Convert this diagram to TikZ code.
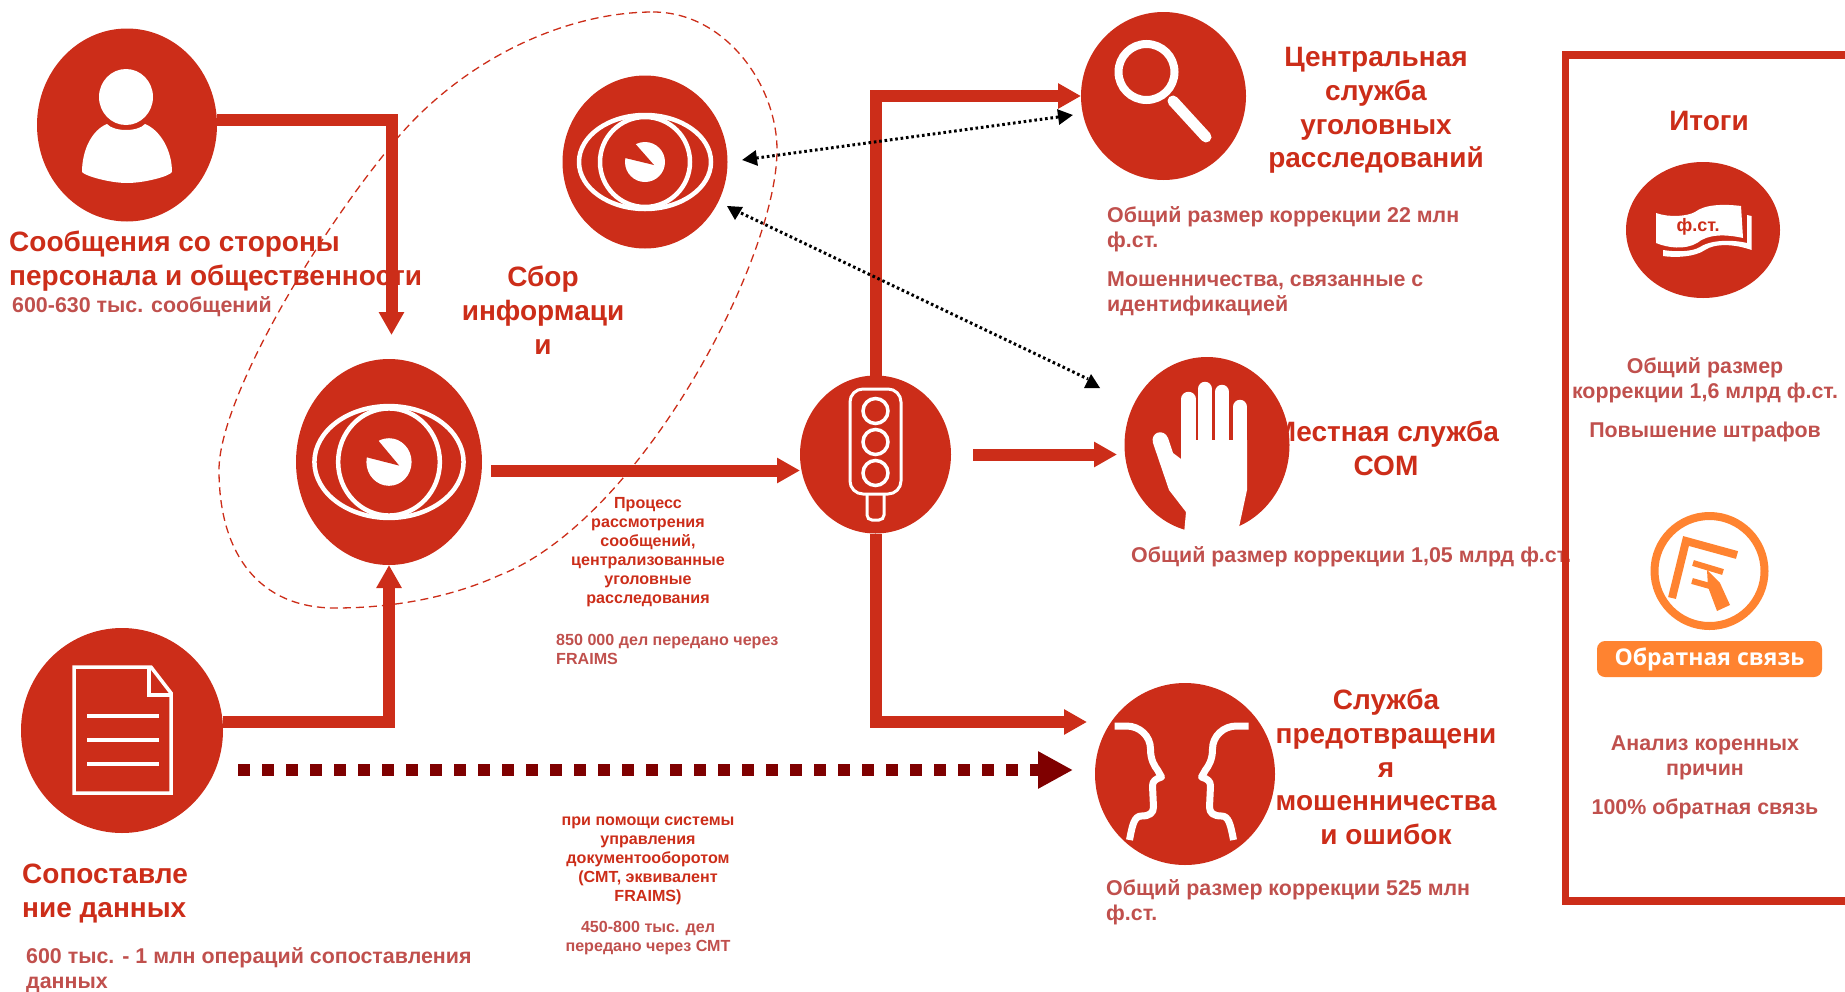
\documentclass[tikz,border=0pt]{standalone}
\usepackage{fontspec}
\setmainfont{Liberation Sans}
\newfontfamily\badgefont{Open Sans}
\usepackage{tikz}
\usetikzlibrary{arrows.meta,shapes.geometric}
\definecolor{mainred}{HTML}{CC2D19}
\definecolor{subred}{HTML}{C0504D}
\definecolor{darkred}{HTML}{7F0000}
\definecolor{feedback}{HTML}{FF8330}
\tikzset{
    >=Stealth,
    disc/.style={
        shape=ellipse,
        fill=mainred,
        inner sep=0pt,
        outer sep=0pt
    },
    headline/.style={
        text=mainred,
        inner sep=0pt,
        font={\fontsize{28pt}{33.8pt}\selectfont\bfseries}
    },
    remark/.style={
        text=subred,
        inner sep=0pt,
        yshift=-2pt,
        font={\fontsize{21.4pt}{25pt}\selectfont\bfseries}
    },
    smallred/.style={
        text=mainred,
        inner sep=0pt,
        yshift=-1.5pt,
        font={\fontsize{16.1pt}{19pt}\selectfont\bfseries}
    },
    smallsub/.style={smallred, text=subred},
    flowline/.style={
        draw=mainred,
        line width=12pt,
        -{Triangle[length=23pt,width=24pt]}
    },
    dotline/.style={
        draw=black,
        line width=3pt,
        dash pattern=on 2.6pt off 2.8pt,
        {Triangle[length=15pt,width=15pt]}-{Triangle[length=15pt,width=15pt]}
    },
    whiteline/.style={draw=white, line width=7pt},
    eyeicon/.pic={
        \draw[white, line width=4.5pt] (0,0) ellipse (66 and 47);
        \draw[white, line width=4.5pt] (0,0) circle (45);
        \fill[white] (0,0) circle (20);
        \fill[mainred] (9,3) -- (-24,-5) -- (-13,-22) -- cycle;
    },
    faceicon/.pic={
        \draw[whiteline, line join=round]
            (-67,-48) -- (-55,-48) .. controls (-42,-48) and (-31,-38) .. (-31,-25)
            .. controls (-31,-14) and (-27,-8) .. (-24,-4) -- (-20,3)
            .. controls (-26,5) and (-29,7) .. (-29,12) -- (-28,33)
            .. controls (-28,39) and (-32,42) .. (-40,42)
            .. controls (-47,42) and (-49,50) .. (-52,66);
    },
}
\begin{document}
\begin{tikzpicture}
[
    x=1pt,
    y=-1pt,
]
\useasboundingbox (0,0) rectangle (1845,991);

% texts
\node[headline, anchor=west, align=left] (reportstitle) at (9,261)
    {Сообщения со стороны\\персонала и общественности};
\node[remark, anchor=west] (reportsnote) at (12,305) {600-630 тыс. сообщений};
\node[headline, align=center] (collecttitle) at (543,310) {Сбор\\информаци\\и};
\node[headline, align=center] (centraltitle) at (1376,110.5)
    {Центральная\\служба\\уголовных\\расследований};
\node[remark, anchor=west, align=left] (centralnote) at (1107,227)
    {Общий размер коррекции 22 млн\\ф.ст.};
\node[remark, anchor=west, align=left] (fraudnote) at (1107,292)
    {Мошенничества, связанные с\\идентификацией};
\node[headline, align=center] (localtitle) at (1386,448) {Местная служба\\СОМ};
\node[remark, anchor=west] (localnote) at (1131,555)
    {Общий размер коррекции 1,05 млрд ф.ст.};
\node[headline, align=center] (preventtitle) at (1386,767)
    {Служба\\предотвращени\\я\\мошенничества\\и ошибок};
\node[remark, anchor=west, align=left] (preventnote) at (1106,900)
    {Общий размер коррекции 525 млн\\ф.ст.};
\node[headline] (totalstitle) at (1709,121) {Итоги};
\node[remark, align=center] (totalsnote) at (1705,378)
    {Общий размер\\коррекции 1,6 млрд ф.ст.};
\node[remark] (finesnote) at (1705,430) {Повышение штрафов};
\node[remark, align=center] (causenote) at (1705,756) {Анализ коренных\\причин};
\node[remark] (backnote) at (1705,807) {100\% обратная связь};
\node[headline, anchor=west, align=left] (matchtitle) at (22,893.5)
    {Сопоставле\\ние данных};
\node[remark, anchor=west, align=left] (matchnote) at (26,968)
    {600 тыс. - 1 млн операций сопоставления\\данных};
\node[smallred, align=center] (reviewtitle) at (648,551)
    {Процесс\\рассмотрения\\сообщений,\\централизованные\\уголовные\\расследования};
\node[smallsub, anchor=west, align=left] (reviewnote) at (556,648)
    {850 000 дел передано через\\FRAIMS};
\node[smallred, align=center] (cmttitle) at (648,859)
    {при помощи системы\\управления\\документооборотом\\(СМТ, эквивалент\\FRAIMS)};
\node[smallsub, align=center] (cmtnote) at (648,937)
    {450-800 тыс. дел\\передано через СМТ};

% group outline and totals frame
\draw[mainred, line width=1.3pt, dash pattern=on 8pt off 5pt]
    (653,12) .. controls (725,12) and (777,85) .. (777,150)
    .. controls (777,260) and (640,520) .. (500,575)
    .. controls (445,600) and (385,608) .. (335,608)
    .. controls (260,608) and (219,555) .. (219,470)
    .. controls (219,400) and (315,235) .. (400,135)
    .. controls (470,55) and (570,12) .. (653,12) -- cycle;
\draw[mainred, line width=7.5pt] (1565.5,55) rectangle (1850,901);

% discs
\node[disc, minimum width=180pt, minimum height=193pt] (person) at (127,125) {};
\node[disc, minimum width=165pt, minimum height=173pt] (eyetop) at (645,162) {};
\node[disc, minimum width=186pt, minimum height=206pt] (eyemid) at (389,462) {};
\node[disc, minimum width=202pt, minimum height=205pt] (doc) at (122,730.5) {};
\node[disc, minimum width=151pt, minimum height=158pt] (traffic) at (875.5,454.5) {};
\node[disc, minimum width=165pt, minimum height=168pt] (lens) at (1163.5,96) {};
\node[disc, minimum width=165pt, minimum height=176pt] (hand) at (1207,445) {};
\node[disc, minimum width=180pt, minimum height=182pt] (faces) at (1185,774) {};
\node[disc, minimum width=154pt, minimum height=136pt] (money) at (1703,230) {};

% connectors
\coordinate (reportsend) at (391.5,335);
\coordinate (handstart) at (973,454.5);
\coordinate (handend) at (1117,454.5);
\coordinate (facesend) at (1087,722);
\coordinate (midstart) at (491,470.5);
\coordinate (midend) at (800,470.5);
\coordinate (cmtstart) at (238,770);
\coordinate (cmtend) at (1073,770);
\coordinate (eyetipa) at (742,160);
\coordinate (lenstip) at (1073,115);
\coordinate (eyetipb) at (727,206);
\coordinate (handtip) at (1088,379);
\draw[flowline] ([yshift=5.5pt]person.east) -| (reportsend);
\draw[flowline] ([yshift=8.5pt]doc.east) -| (eyemid.south);
\draw[flowline] (midstart) -- (midend);
\draw[flowline] (traffic.north) |- (lens.west);
\draw[flowline] (handstart) -- (handend);
\draw[flowline] (traffic.south) |- (facesend);
\draw[darkred, line width=12.5pt, dash pattern=on 12.3pt off 11.7pt,
    -{Triangle[length=35pt,width=35pt]}] (cmtstart) -- (cmtend);
\draw[dotline] (eyetipa) -- (lenstip);
\draw[dotline, -] ([xshift=14pt,yshift=-7pt]eyetipb) -- (handtip);
\fill (eyetipb) -- ++(16,1) -- ++(-8,13) -- cycle;
\fill (1091,374) -- (1100,388) -- (1084,388) -- cycle;

% person icon
\fill[white] (126,97) ellipse (27 and 28);
\fill[white] (107,124) .. controls (114,132) and (138,132) .. (145,124)
    .. controls (160,130) and (172,150) .. (172,172)
    .. controls (170,176) and (145,183) .. (127,183)
    .. controls (110,183) and (85,176) .. (82,172)
    .. controls (82,150) and (92,130) .. (107,124) -- cycle;

% eye icons
\pic at (eyetop) {eyeicon};
\pic[xscale=1.13, yscale=1.19] at (eyemid) {eyeicon};

% document icon
\draw[white, line width=3.5pt, line join=miter]
    (74,667) -- (151,667) -- (171,693) -- (171,793) -- (74,793) -- cycle;
\draw[white, line width=3.5pt] (149,667) -- (149,695) -- (171,695);
\foreach \liney in {716,740,764} {
    \draw[white, line width=4pt] (87,\liney) -- (159,\liney);
}

% traffic light icon
\draw[white, line width=3pt, rounded corners=13pt] (850,389) rectangle (901,494);
\draw[white, line width=3pt, rounded corners=5pt] (867,494) -- (867,520) -- (884,520) -- (884,494);
\foreach \lighty in {411,442,473} {
    \draw[white, line width=3.5pt] (875.5,\lighty) circle (12.5);
}

% magnifier icon
\draw[white, line width=8pt] (1146.5,72) circle (28);
\draw[white, line width=11pt, line cap=round] (1173,101) -- (1206,137);

% hand icon
\fill[white] (1181,440) -- (1247,440) -- (1247,490) -- (1238,532) -- (1236,545) -- (1183,545)
    -- (1186,512) -- (1169,490) -- (1153,443) .. controls (1150,432) and (1164,428) .. (1168,438)
    -- (1173,453) -- (1181,459) -- cycle;
\draw[white, line width=14.5pt, line cap=round] (1188.5,445) -- (1188.5,399);
\draw[white, line width=14.5pt, line cap=round] (1205,445) -- (1205,389);
\draw[white, line width=14.5pt, line cap=round] (1222,445) -- (1222,392);
\draw[white, line width=14.5pt, line cap=round] (1240,445) -- (1240,407);

% faces icon
\pic at (1181.5,774) {faceicon};
\pic[xscale=-1] at (1181.5,774) {faceicon};

% banknote icon
\fill[white] (1656,213) .. controls (1670,218) and (1688,216) .. (1695,212)
    .. controls (1705,204) and (1725,204) .. (1741,206) -- (1743,238)
    .. controls (1725,234) and (1708,234) .. (1697,243)
    .. controls (1685,250) and (1668,248) .. (1656,243) -- cycle;
\fill[white] (1747,215) -- (1751.5,216) -- (1751.5,250) .. controls (1735,244) and (1715,243) .. (1705,250)
    .. controls (1695,257) and (1675,258) .. (1663,256) -- (1663,250)
    .. controls (1675,252) and (1692,252) .. (1700,247)
    .. controls (1712,239) and (1735,240) .. (1747,243) -- cycle;
\node[text=mainred, inner sep=0pt, font={\fontsize{18pt}{20pt}\selectfont\bfseries}] (moneylabel) at (1698,227) {ф.ст.};

% feedback icon and badge
\draw[feedback, line width=8pt] (1709.5,571) circle (55);
\draw[feedback, line width=8pt] (1672,598) -- (1686,541) -- (1737,555);
\draw[feedback, line width=6pt] (1693,563) -- (1723,572);
\draw[feedback, line width=6pt] (1692,581) -- (1717,588);
\fill[feedback] (1707,570) -- (1720,583) -- (1730,605) -- (1717,611) -- (1708,587) -- cycle;
\node[fill=feedback, rounded corners=8pt, minimum width=225pt, minimum height=36pt, inner sep=0pt,
    text=white, font={\fontsize{23pt}{28pt}\selectfont\badgefont\bfseries}] (feedbackbadge) at (1709.5,659)
    {\raisebox{-2pt}{Обратная связь}};
\end{tikzpicture}
\end{document}
